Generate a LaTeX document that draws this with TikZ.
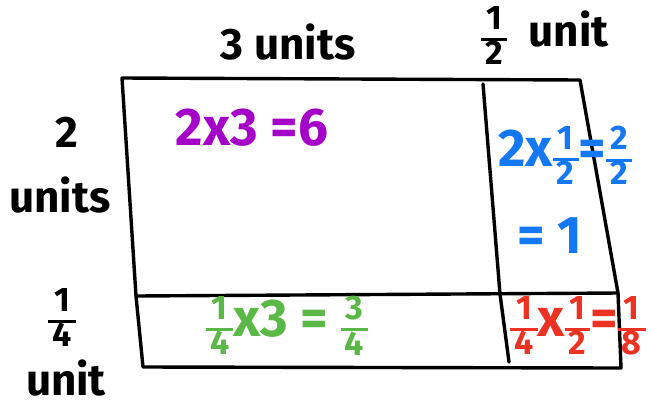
\documentclass[tikz,border=0pt]{standalone}
\usepackage{fontspec}
\setmainfont{Fira Sans}
\usetikzlibrary{positioning}
\definecolor{eqpurple}{HTML}{A500C8}
\definecolor{eqblue}{HTML}{1478F5}
\definecolor{eqgreen}{HTML}{5AB946}
\definecolor{eqred}{HTML}{EB3223}
% stacked fraction in the text font
\newcommand{\fr}[2]{$\vcenter{\hbox{\fontsize{34}{35}\selectfont\setlength{\arrayrulewidth}{3pt}\setlength{\tabcolsep}{4pt}\renewcommand{\arraystretch}{0.82}\begin{tabular}{c}#1\\\hline #2\end{tabular}}}$}
\begin{document}
\begin{tikzpicture}[x=1pt, y=-1pt,
    edge/.style={line width=3.4pt, line cap=round, line join=round},
    lbl/.style={inner sep=0pt, font=\fontsize{44}{46}\selectfont\bfseries},
    eqn/.style={inner sep=0pt, font=\fontsize{53}{55}\selectfont\bfseries}]
  \useasboundingbox (0,0) rectangle (652,410);
  % corners of the area model
  \coordinate (tl) at (122,78);
  \coordinate (tr) at (580,80);
  \coordinate (ml) at (136,296);
  \coordinate (mr) at (618,293);
  \coordinate (bl) at (143,367);
  \coordinate (br) at (621,368);
  \coordinate (dt) at (483,84);
  \coordinate (dm) at (500,294);
  \coordinate (db) at (509,362);
  \draw[edge] (tl) -- (tr) -- (mr) -- (br) -- (bl) -- (ml) -- cycle;
  \draw[edge] (ml) -- (mr);
  \draw[edge] (dt) -- (dm) -- (db);
  % side lengths
  \node[lbl] (three) at (288,42) {3 units};
  \node[lbl] (half) at (545,40) {\fr{1}{2}\enspace unit};
  \node[lbl] (two) at (67,132) {2};
  \node[lbl] (twounits) at (60,195) {units};
  \node[lbl] (quarter) at (62,322) {\fr{1}{4}};
  \node[lbl] (quarterunit) at (66,378) {unit};
  % partial products
  \node[eqn, text=eqpurple] (big) at (252,128) {2x3 =6};
  \node[eqn, text=eqblue] (tall) at (565,160) {2x\fr{1}{2}=\fr{2}{2}};
  \node[eqn, text=eqblue] (tallres) at (550,236) {= 1};
  \node[eqn, text=eqgreen] (wide) at (287,330) {\fr{1}{4}x3 = \fr{3}{4}};
  \node[eqn, text=eqred] (small) at (578,330) {\fr{1}{4}x\fr{1}{2}=\fr{1}{8}};
\end{tikzpicture}
\end{document}
